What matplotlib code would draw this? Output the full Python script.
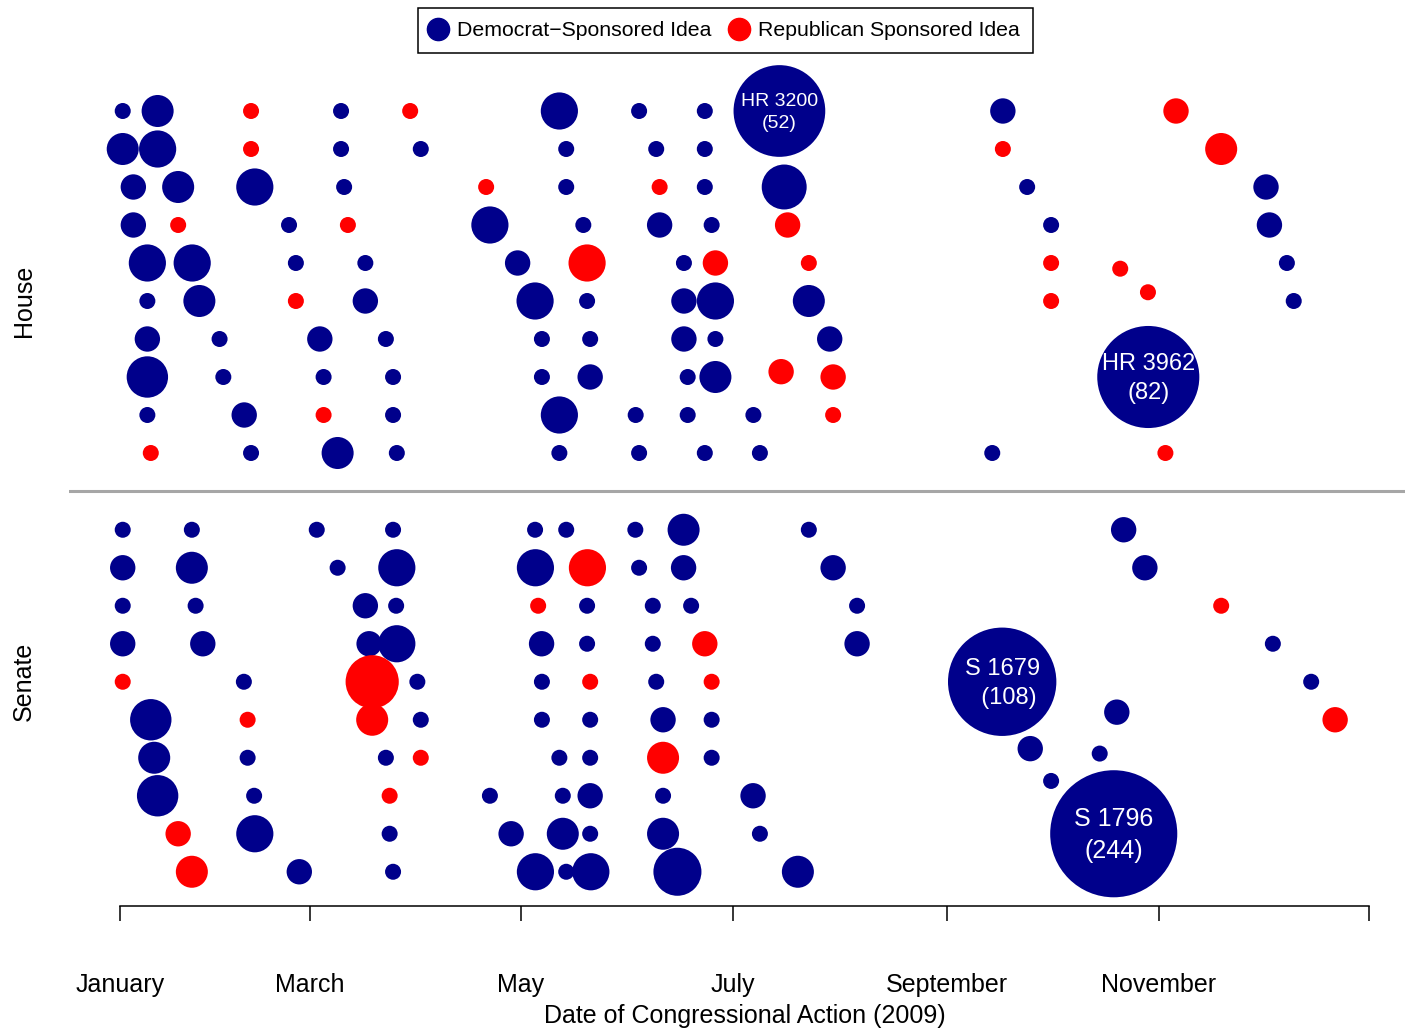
import numpy as np
import matplotlib
matplotlib.use("Agg")
import matplotlib.pyplot as plt
from matplotlib.lines import Line2D

# Tage seit 1. Januar 2009, Zeile (1 = oben) innerhalb der Kammer,
# Anzahl der Aktionen und Partei des Sponsors (D / R)
house_day = [
    0.8, 11.0, 38.3, 64.6, 84.8, 128.4, 151.7, 170.9, 192.7, 258.0, 308.6,
    0.8, 11.0, 38.3, 64.6, 87.9, 130.4, 156.7, 170.9, 258.0, 321.8,
    3.9, 17.0, 39.4, 65.5, 107.0, 130.4, 157.7, 170.9, 194.1, 265.1, 334.9,
    3.9, 17.0, 49.4, 66.6, 108.1, 135.4, 157.7, 172.9, 195.1, 272.1, 335.9,
    8.0, 21.1, 51.4, 71.7, 116.2, 136.5, 164.8, 174.0, 201.3, 272.1, 292.3, 341.0,
    8.0, 23.2, 51.4, 71.7, 121.3, 136.5, 164.8, 174.0, 201.3, 272.1, 300.4, 343.0,
    8.0, 29.1, 58.4, 77.7, 123.3, 137.4, 164.8, 174.0, 207.4,
    8.0, 30.2, 59.5, 79.8, 123.3, 137.4, 165.9, 174.0, 193.2, 208.4, 300.5,
    8.0, 36.3, 59.5, 79.8, 128.4, 150.7, 165.9, 185.1, 208.4,
    9.0, 38.3, 63.6, 80.9, 128.4, 151.7, 170.9, 187.0, 254.9, 305.5,
]
house_row = [
    1, 1, 1, 1, 1, 1, 1, 1, 1, 1, 1,
    2, 2, 2, 2, 2, 2, 2, 2, 2, 2,
    3, 3, 3, 3, 3, 3, 3, 3, 3, 3, 3,
    4, 4, 4, 4, 4, 4, 4, 4, 4, 4, 4,
    5, 5, 5, 5, 5, 5, 5, 5, 5, 5, 5.15, 5,
    6, 6, 6, 6, 6, 6, 6, 6, 6, 6, 5.77, 6,
    7, 7, 7, 7, 7, 7, 7, 7, 7,
    8, 8, 8, 8, 8, 8, 8, 8, 7.86, 8, 8,
    9, 9, 9, 9, 9, 9, 9, 9, 9,
    10, 10, 10, 10, 10, 10, 10, 10, 10, 10,
]
house_n = [
    1, 3, 1, 1, 1, 4, 1, 1, 52, 2, 2,
    3, 4, 1, 1, 1, 1, 1, 1, 1, 3,
    2, 3, 4, 1, 1, 1, 1, 1, 6, 1, 2,
    2, 1, 1, 1, 4, 1, 2, 1, 2, 1, 2,
    4, 4, 1, 1, 2, 4, 1, 2, 1, 1, 1, 1,
    1, 3, 1, 2, 4, 1, 2, 4, 3, 1, 1, 1,
    2, 1, 2, 1, 1, 1, 2, 1, 2,
    5, 1, 1, 1, 1, 2, 1, 3, 2, 2, 82,
    1, 2, 1, 1, 4, 1, 1, 1, 1,
    1, 1, 3, 1, 1, 1, 1, 1, 1, 1,
]
house_party = (
    "DDRDRDDDDDR"
    "DDRDDDDDRR"
    "DDDDRDRDDDD"
    "DRDRDDDDRDD"
    "DDDDDRDRRRRD"
    "DDRDDDDDDRRD"
    "DDDDDDDDD"
    "DDDDDDDDRRD"
    "DDRDDDDDR"
    "RDDDDDDDDR"
)

senate_day = [
    0.8, 21.0, 57.5, 79.8, 121.3, 130.4, 150.6, 164.7, 201.3, 293.3,
    0.8, 21.0, 63.6, 80.9, 121.4, 136.6, 151.7, 164.7, 208.4, 299.5,
    0.8, 22.1, 71.7, 80.7, 122.2, 136.5, 155.7, 166.9, 215.4, 321.8,
    0.8, 24.2, 72.8, 80.9, 123.2, 136.5, 155.7, 170.9, 215.4, 336.9,
    0.8, 36.2, 73.7, 86.9, 123.3, 137.4, 156.7, 172.9, 257.8, 348.1,
    9.0, 37.3, 73.7, 87.9, 123.3, 137.4, 158.7, 172.9, 291.3, 355.1,
    10.0, 37.3, 77.7, 87.9, 128.4, 137.4, 158.7, 172.9, 266.0, 286.3,
    11.0, 39.2, 78.8, 108.1, 129.4, 137.4, 158.7, 185.0, 272.1,
    17.0, 39.4, 78.8, 114.3, 129.4, 137.4, 158.7, 187.0, 290.4,
    21.0, 52.4, 79.8, 121.4, 130.4, 137.6, 162.9, 198.1,
]
senate_row = [
    1, 1, 1, 1, 1, 1, 1, 1, 1, 1,
    2, 2, 2, 2, 2, 2, 2, 2, 2, 2,
    3, 3, 3, 3, 3, 3, 3, 3, 3, 3,
    4, 4, 4, 4, 4, 4, 4, 4, 4, 4,
    5, 5, 5, 5, 5, 5, 5, 5, 5, 5,
    6, 6, 6, 6, 6, 6, 6, 6, 5.80, 6,
    7, 7, 7, 7, 7, 7, 7, 7, 6.76, 6.89,
    8, 8, 8, 8, 8, 8, 8, 8, 7.61,
    9, 9, 9, 9, 9, 9, 9, 9, 9,
    10, 10, 10, 10, 10, 10, 10, 10,
]
senate_n = [
    1, 1, 1, 1, 1, 1, 1, 3, 1, 2,
    2, 3, 1, 4, 4, 4, 1, 2, 2, 2,
    1, 1, 2, 1, 1, 1, 1, 1, 1, 1,
    2, 2, 2, 4, 2, 1, 1, 2, 2, 1,
    1, 1, 9, 1, 1, 1, 1, 1, 108, 1,
    5, 1, 3, 1, 1, 1, 2, 1, 2, 2,
    3, 1, 1, 1, 1, 1, 3, 1, 2, 1,
    5, 1, 1, 1, 1, 2, 1, 2, 1,
    2, 4, 1, 2, 3, 1, 3, 1, 244,
    3, 2, 1, 4, 1, 4, 7, 3,
]
senate_party = (
    "DDDDDDDDDD"
    "DDDDDRDDDD"
    "DDDDRDDDDR"
    "DDDDDDDRDD"
    "RDRDDRDRDD"
    "DRRDDDDDDR"
    "DDDRDDRDDD"
    "DDRDDDDDD"
    "RDDDDDDDD"
    "RDDDDDDD"
)

bubble_labels = ["HR 3200\n(52)", "HR 3962\n(82)", "S 1679\n  (108)", "S 1796\n(244)"]
label_sizes = [14, 17, 17, 18]

tick_days = [0, 55.5, 117.2, 179.1, 241.7, 303.6, 365]
tick_labels = ["January", "March", "May", "July", "September", "November", ""]

colors = {"D": "#00008B", "R": "#FF0000"}

plt.rcParams["font.family"] = ["Liberation Sans", "DejaVu Sans"]

fig = plt.figure(figsize=(14.05, 10.32), dpi=100)
ax = fig.add_axes([69 / 1405, 1 - 906 / 1032, 1351 / 1405, 846 / 1032])


def bubble_size(n):
    # Radius waechst mit log(n + 1), Angabe in Pixeln -> Punkte^2
    r_px = 11.55 * np.log(np.asarray(n) + 1)
    return (2 * r_px * 72 / 100) ** 2


ax.axhline(11, color="#A6A6A6", lw=2.2, zorder=1)

label_idx = 0
for day, row, n, party, offset in [
    (house_day, house_row, house_n, house_party, 0),
    (senate_day, senate_row, senate_n, senate_party, 11.02),
]:
    y = np.array(row) + offset
    ax.scatter(day, y, s=bubble_size(n), c=[colors[p] for p in party],
               linewidths=0, clip_on=False, zorder=3)
    for d, yy, k in zip(day, y, n):
        if k >= 50:
            ax.text(d, yy + 0.04, bubble_labels[label_idx], color="white", ha="center",
                    va="center", fontsize=label_sizes[label_idx],
                    linespacing=1.4, zorder=4)
            label_idx += 1

ax.set_xlim(-14.9, 379.9)
ax.set_ylim(21.921, -0.342)

for side in ["top", "right", "left"]:
    ax.spines[side].set_visible(False)
ax.spines["bottom"].set_bounds(0, 365)
ax.spines["bottom"].set_linewidth(1.1)
ax.set_yticks([])
ax.set_xticks(tick_days, tick_labels)
ax.tick_params(axis="x", length=10.8, width=1.1, pad=37.5, labelsize=18)
ax.set_xlabel("Date of Congressional Action (2009)", fontsize=18, labelpad=5)

ax.text(-0.0333, 6, "House", transform=ax.get_yaxis_transform(), rotation=90,
        ha="center", va="center", fontsize=18)
ax.text(-0.0333, 16, "Senate", transform=ax.get_yaxis_transform(), rotation=90,
        ha="center", va="center", fontsize=18)

handles = [
    Line2D([], [], ls="none", marker="o", ms=16, mfc=colors["D"], mec=colors["D"]),
    Line2D([], [], ls="none", marker="o", ms=16, mfc=colors["R"], mec=colors["R"]),
]
leg = fig.legend(handles, ["Democrat\u2212Sponsored Idea", "Republican Sponsored Idea"],
                 loc="upper center", bbox_to_anchor=(725.5 / 1405, 1 - 8 / 1032),
                 ncol=2, fontsize=15.3, frameon=True, fancybox=False, edgecolor="black",
                 framealpha=1, borderpad=0.62, handlelength=0.6, handletextpad=0.6,
                 columnspacing=1.0, borderaxespad=0)
leg.get_frame().set_linewidth(1.1)

fig.savefig("out.png", dpi=100)
